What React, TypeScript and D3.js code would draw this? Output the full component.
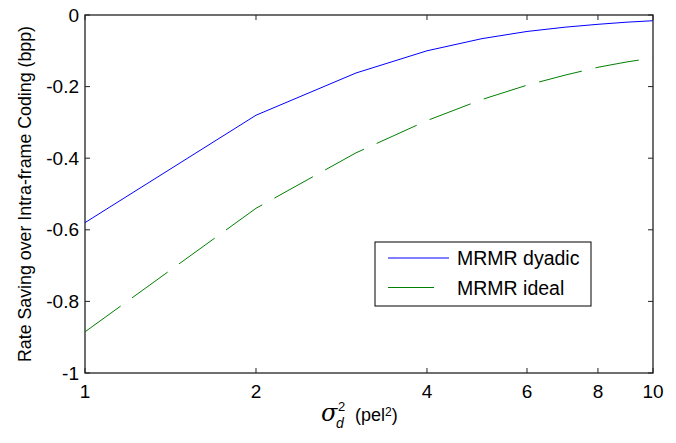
import React, { useRef, useEffect } from 'react';
import * as d3 from 'd3';

// sigma_d^2 values (pel^2)
const variances = [1, 2, 3, 4, 5, 6, 7, 8, 9, 10];
// rate saving (bpp)
const dyadic = [-0.58, -0.28, -0.162, -0.1, -0.066, -0.046, -0.034, -0.026, -0.02, -0.016];
const ideal = [-0.885, -0.54, -0.385, -0.295, -0.236, -0.196, -0.168, -0.146, -0.131, -0.12];
const xTicks = [1, 2, 4, 6, 8, 10];
const yTicks = [0, -0.2, -0.4, -0.6, -0.8, -1];
const seriesNames = ['MRMR dyadic', 'MRMR ideal'];

function App() {
  const ref = useRef<SVGSVGElement>(null);

  useEffect(() => {
    const svg = d3.select(ref.current);
    svg.selectAll('*').remove();

    const left = 85, right = 653, top = 15, bottom = 373;
    const font = 'Arial, "Liberation Sans", sans-serif';

    const x = d3.scaleLog().domain([1, 10]).range([left, right]);
    const y = d3.scaleLinear().domain([-1, 0]).range([bottom, top]);

    // frame
    svg.append('rect')
      .attr('x', left).attr('y', top)
      .attr('width', right - left).attr('height', bottom - top)
      .attr('fill', 'none').attr('stroke', '#222').attr('stroke-width', 1.3);

    const tl = 5;
    const ticks = svg.append('g').attr('stroke', '#222').attr('stroke-width', 1);
    xTicks.forEach(t => {
      ticks.append('line').attr('x1', x(t)).attr('x2', x(t)).attr('y1', bottom).attr('y2', bottom - tl);
      ticks.append('line').attr('x1', x(t)).attr('x2', x(t)).attr('y1', top).attr('y2', top + tl);
    });
    yTicks.forEach(t => {
      ticks.append('line').attr('x1', left).attr('x2', left + tl).attr('y1', y(t)).attr('y2', y(t));
      ticks.append('line').attr('x1', right).attr('x2', right - tl).attr('y1', y(t)).attr('y2', y(t));
    });

    svg.append('g').selectAll('text').data(xTicks).enter().append('text')
      .attr('x', d => x(d)).attr('y', 398)
      .attr('text-anchor', 'middle')
      .attr('font-family', font).attr('font-size', 19).attr('fill', '#000')
      .text(d => String(d));

    svg.append('g').selectAll('text').data(yTicks).enter().append('text')
      .attr('x', 79).attr('y', d => y(d) + 6.5)
      .attr('text-anchor', 'end')
      .attr('font-family', font).attr('font-size', 19).attr('fill', '#000')
      .text(d => String(d));

    // y label
    svg.append('text')
      .attr('transform', `translate(31,${(top + bottom) / 2}) rotate(-90)`)
      .attr('text-anchor', 'middle')
      .attr('font-family', font).attr('font-size', 17.8).attr('fill', '#000')
      .text('Rate Saving over Intra-frame Coding (bpp)');

    // x label: sigma_d^2 (pel^2)
    const lab = svg.append('g').attr('fill', '#000');
    lab.append('text').attr('x', 321).attr('y', 421)
      .attr('font-family', '"DejaVu Serif", "Liberation Serif", serif')
      .attr('font-style', 'italic').attr('font-size', 24).text('σ');
    lab.append('text').attr('x', 338).attr('y', 411)
      .attr('font-family', font).attr('font-size', 13).text('2');
    lab.append('text').attr('x', 336).attr('y', 428)
      .attr('font-family', font).attr('font-style', 'italic').attr('font-size', 14).text('d');
    const pel = lab.append('text').attr('x', 355).attr('y', 421)
      .attr('font-family', font).attr('font-size', 18);
    pel.append('tspan').text('(pel');
    pel.append('tspan').attr('font-size', 12).attr('dy', -5).text('2');
    pel.append('tspan').attr('dy', 5).text(')');

    const line = d3.line<number>()
      .x((_, i) => x(variances[i]))
      .y(d => y(d));

    svg.append('path').attr('d', line(dyadic))
      .attr('fill', 'none').attr('stroke', '#0000ff').attr('stroke-width', 1);
    svg.append('path').attr('d', line(ideal))
      .attr('fill', 'none').attr('stroke', '#008000').attr('stroke-width', 1)
      .attr('stroke-dasharray', '44 14');

    // legend
    const lg = svg.append('g');
    lg.append('rect').attr('x', 375).attr('y', 242).attr('width', 216).attr('height', 64)
      .attr('fill', '#fff').attr('stroke', '#000').attr('stroke-width', 1);
    const colors = ['#0000ff', '#008000'];
    seriesNames.forEach((name, i) => {
      const ly = 258 + i * 29.5;
      lg.append('line').attr('x1', 388).attr('x2', i === 0 ? 449 : 434)
        .attr('y1', ly).attr('y2', ly).attr('stroke', colors[i]).attr('stroke-width', 1);
      lg.append('text').attr('x', 457).attr('y', ly + 7)
        .attr('font-family', font).attr('font-size', 19.5).attr('fill', '#000')
        .text(name);
    });
  }, []);

  return (
    <svg ref={ref} width={676} height={443}
      style={{ position: 'absolute', left: 0, top: 0, background: '#fff' }} />
  );
}

export default App;
